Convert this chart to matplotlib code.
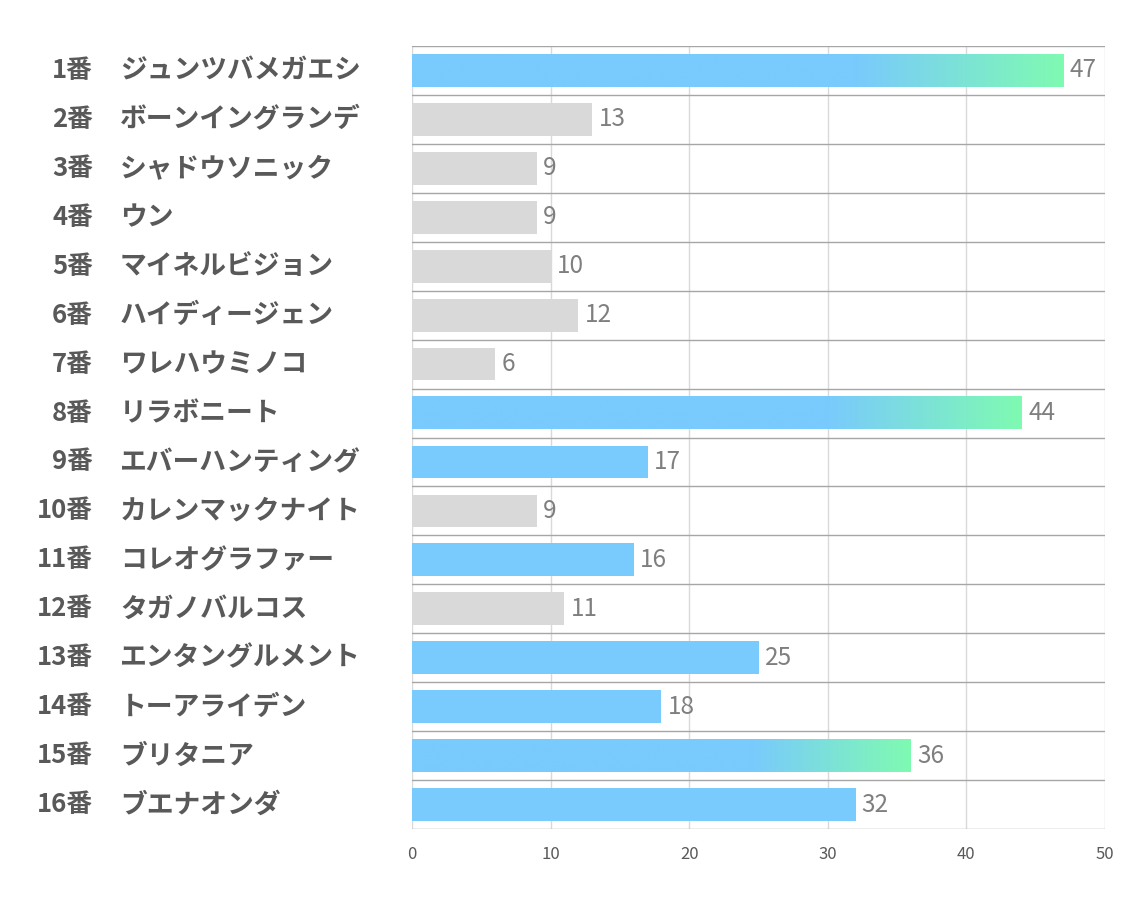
import numpy as np
import matplotlib
matplotlib.use("Agg")
import matplotlib.pyplot as plt
import matplotlib.transforms as mtransforms
from matplotlib.colors import to_rgb

plt.rcParams['font.family'] = ['Noto Sans CJK JP', 'DejaVu Sans']

# データ
numbers = ["1番", "2番", "3番", "4番", "5番", "6番", "7番", "8番",
           "9番", "10番", "11番", "12番", "13番", "14番", "15番", "16番"]
names = ["ジュンツバメガエシ", "ボーンイングランデ", "シャドウソニック", "ウン",
         "マイネルビジョン", "ハイディージェン", "ワレハウミノコ", "リラボニート",
         "エバーハンティング", "カレンマックナイト", "コレオグラファー", "タガノバルコス",
         "エンタングルメント", "トーアライデン", "ブリタニア", "ブエナオンダ"]
values = [47, 13, 9, 9, 10, 12, 6, 44, 17, 9, 16, 11, 25, 18, 36, 32]
# 0 = gray, 1 = blue, 2 = blue->green gradient
kinds = [2, 0, 0, 0, 0, 0, 0, 2, 1, 0, 1, 0, 1, 1, 2, 1]

BLUE = "#79CAFD"
GREEN = "#7FFAB2"
GRAY = "#D9D9D9"

fig = plt.figure(figsize=(11.34, 9.07), dpi=100)
ax = fig.add_axes([412/1134, 1 - 829/907, 693/1134, 783/907])

n = len(values)
y = np.arange(n)
h = 0.67
colors = [GRAY if k == 0 else BLUE for k in kinds]
bars = ax.barh(y, values, height=h, color=colors, zorder=2)

# gradient overlay
b = np.array(to_rgb(BLUE))
g = np.array(to_rgb(GREEN))
cols = 200
frac = np.linspace(0, 1, cols)
t = np.clip((frac - 0.68) / 0.32, 0, 1)
grad = (b[None, :] * (1 - t[:, None]) + g[None, :] * t[:, None])[None, :, :]
for i, (v, k) in enumerate(zip(values, kinds)):
    if k == 2:
        ax.imshow(grad, extent=[0, v, i + h/2, i - h/2], aspect='auto',
                  zorder=3, interpolation='bilinear')

ax.set_xlim(0, 50)
ax.set_ylim(n - 0.5, -0.5)

# row separators
for yy in np.arange(-0.5, n + 0.5, 1):
    ax.axhline(yy, color="#A6A6A6", lw=1.0, zorder=1)
ax.set_xticks([0, 10, 20, 30, 40, 50])
ax.grid(axis='x', color="#D9D9D9", lw=1.0, zorder=0)
ax.set_axisbelow(True)
for s in ax.spines.values():
    s.set_visible(False)
ax.tick_params(axis='x', length=0, pad=12, labelsize=12, labelcolor="#595959")
ax.set_yticks([])

# value labels
for i, v in enumerate(values):
    ax.text(v + 0.45, i, str(v), va='center', ha='left', fontsize=17.5,
            color="#7F7F7F", zorder=4)

# category labels
trans = mtransforms.blended_transform_factory(fig.transFigure, ax.transData)
for i, (num, name) in enumerate(zip(numbers, names)):
    ax.text(93/1134, i, num, transform=trans, ha='right', va='center',
            fontsize=18.5, fontweight='bold', color="#595959")
    ax.text(120/1134, i, name, transform=trans, ha='left', va='center',
            fontsize=19.3, fontweight='bold', color="#595959")

fig.savefig("out.png", dpi=100, facecolor="white")
